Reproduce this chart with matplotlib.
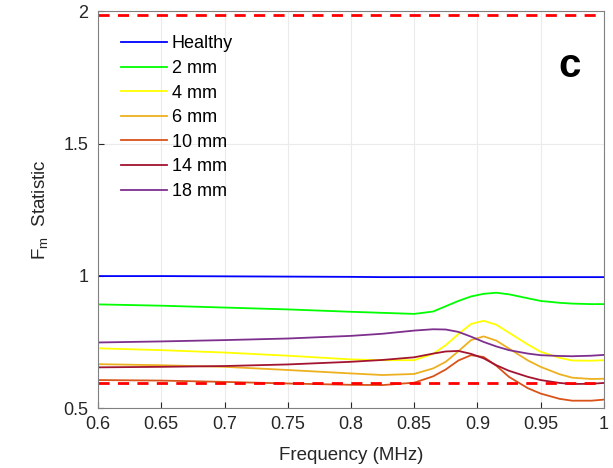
import matplotlib.pyplot as plt

plt.rcParams['font.family'] = ['Liberation Sans', 'DejaVu Sans']
plt.rcParams['mathtext.fontset'] = 'custom'
plt.rcParams['mathtext.rm'] = 'Liberation Sans'

# frequency samples (MHz)
freq = [0.6, 0.65, 0.7, 0.75, 0.8, 0.825, 0.85, 0.865, 0.875, 0.885, 0.895,
        0.905, 0.915, 0.925, 0.94, 0.95, 0.965, 0.975, 0.99, 1.0]

healthy = [0.999, 0.999, 0.998, 0.997, 0.996, 0.995, 0.995, 0.995, 0.995, 0.995,
           0.995, 0.995, 0.995, 0.995, 0.995, 0.995, 0.995, 0.995, 0.995, 0.995]
mm2 = [0.892, 0.887, 0.880, 0.873, 0.864, 0.860, 0.856, 0.865, 0.885, 0.905,
       0.922, 0.932, 0.936, 0.930, 0.915, 0.905, 0.898, 0.895, 0.893, 0.893]
mm4 = [0.726, 0.719, 0.710, 0.698, 0.684, 0.681, 0.681, 0.705, 0.738, 0.780,
       0.818, 0.830, 0.815, 0.785, 0.740, 0.713, 0.690, 0.680, 0.679, 0.681]
mm6 = [0.666, 0.662, 0.656, 0.644, 0.631, 0.625, 0.629, 0.650, 0.675, 0.715,
       0.757, 0.771, 0.755, 0.725, 0.680, 0.656, 0.628, 0.615, 0.610, 0.611]
mm10 = [0.606, 0.604, 0.599, 0.593, 0.588, 0.587, 0.596, 0.620, 0.646, 0.680,
        0.700, 0.693, 0.660, 0.618, 0.575, 0.555, 0.535, 0.528, 0.528, 0.532]
mm14 = [0.654, 0.656, 0.659, 0.665, 0.675, 0.682, 0.692, 0.706, 0.714, 0.716,
        0.705, 0.688, 0.662, 0.641, 0.618, 0.606, 0.595, 0.591, 0.592, 0.595]
mm18 = [0.748, 0.752, 0.757, 0.763, 0.773, 0.781, 0.793, 0.798, 0.797, 0.788,
        0.770, 0.750, 0.733, 0.719, 0.706, 0.700, 0.697, 0.696, 0.698, 0.701]

series = [healthy, mm2, mm4, mm6, mm10, mm14, mm18]
labels = ['Healthy', '2 mm', '4 mm', '6 mm', '10 mm', '14 mm', '18 mm']
colors = ['#0000ff', '#00ff00', '#ffff00', '#edb120', '#d95319', '#a2142f', '#7e2f8e']

upper_limit = 1.985
lower_limit = 0.594

fig = plt.figure(figsize=(6.13, 4.68), dpi=100)
ax = fig.add_axes([0.160, 0.128, 0.825, 0.848])

for y, lab, c in zip(series, labels, colors):
    ax.plot(freq, y, color=c, lw=1.3, label=lab)

ax.axhline(upper_limit, color='#ff0000', ls=(0, (4, 3)), lw=2)
ax.axhline(lower_limit, color='#ff0000', ls=(0, (4, 3)), lw=2)

ax.set_xlim(0.6, 1.0)
ax.set_ylim(0.5, 2.0)
ax.set_xticks([0.6, 0.65, 0.7, 0.75, 0.8, 0.85, 0.9, 0.95, 1.0])
ax.set_xticklabels(['0.6', '0.65', '0.7', '0.75', '0.8', '0.85', '0.9', '0.95', '1'])
ax.set_yticks([0.5, 1, 1.5, 2])
ax.set_yticklabels(['0.5', '1', '1.5', '2'])
ax.grid(True, color='#ebebeb', lw=0.8)
ax.set_axisbelow(True)
ax.tick_params(labelsize=13, colors='#262626', direction='in', length=4, width=0.8)
ax.tick_params(axis='x', pad=6)
ax.tick_params(axis='y', pad=7)
for s in ax.spines.values():
    s.set_color('#808080')
    s.set_linewidth(0.8)

ax.set_xlabel('Frequency (MHz)', fontsize=13.5, color='#262626', labelpad=10)
ax.set_ylabel(r'F$_{\mathrm{m}}$  Statistic', fontsize=13.5, color='#262626', labelpad=9)

ax.legend(loc='upper left', frameon=False, fontsize=13, handlelength=2.5,
          handletextpad=0.3, labelspacing=0.42, bbox_to_anchor=(0.014, 0.98))
ax.text(0.933, 0.861, 'c', transform=ax.transAxes, fontsize=29, fontweight='bold',
        ha='center', va='center')

fig.savefig('out.png', dpi=100)
